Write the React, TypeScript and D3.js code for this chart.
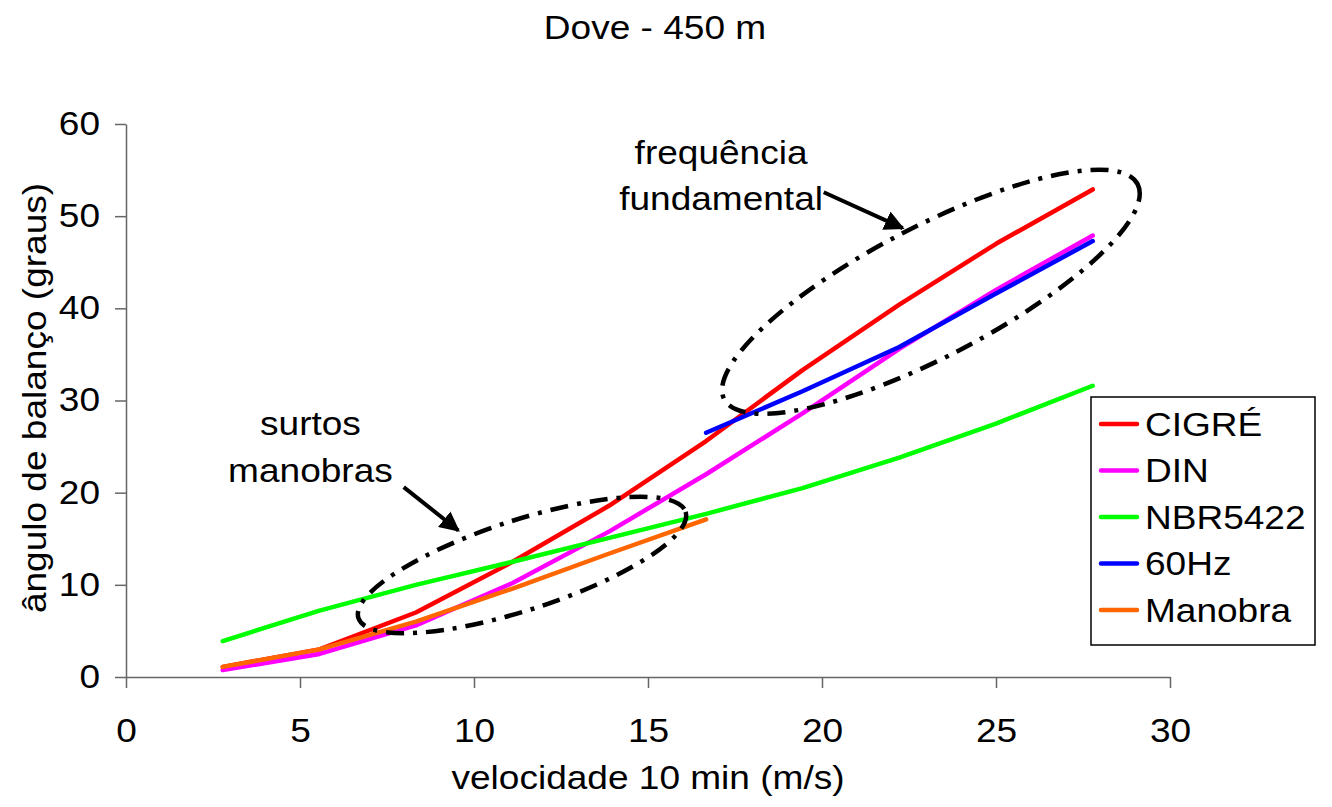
import React, { useEffect, useRef } from 'react';
import * as d3 from 'd3';

// velocidade (m/s) -> 10..100 km/h
const speeds = [2.78, 5.56, 8.33, 11.11, 13.89, 16.67, 19.44, 22.22, 25, 27.78];
const cigre = [1.1, 3.0, 7.0, 12.5, 18.6, 25.6, 33.3, 40.4, 47.0, 52.9];
const din = [0.75, 2.5, 5.6, 10.2, 15.8, 22.0, 28.6, 35.6, 42.0, 47.9];
const nbr = [3.9, 7.2, 10.0, 12.5, 15.1, 17.7, 20.5, 23.8, 27.5, 31.6];
const hz60 = [null, null, null, null, null, 26.5, 31.0, 35.8, 41.6, 47.3];
const manobra = [1.1, 3.0, 6.0, 9.6, 13.4, 17.1, null, null, null, null];

const seriesNames = ['CIGRÉ', 'DIN', 'NBR5422', '60Hz', 'Manobra'];
const seriesColors = ['#ff0000', '#ff00ff', '#00ff00', '#0000ff', '#ff6600'];
const xTicks = [0, 5, 10, 15, 20, 25, 30];
const yTicks = [0, 10, 20, 30, 40, 50, 60];

const FONT = 'Liberation Sans, Arial, sans-serif';
const FS = 32.5;
const SX = 1.14; // text in the original is a bit wider than tall

const App = () => {
  const ref = useRef<SVGSVGElement>(null);

  useEffect(() => {
    const svg = d3.select(ref.current);
    svg.selectAll('*').remove();

    const width = 1332, height = 807;
    const margin = { top: 124, right: 162, bottom: 130, left: 126 };

    const x = d3.scaleLinear().domain([0, 30]).range([margin.left, width - margin.right]);
    const y = d3.scaleLinear().domain([0, 60]).range([height - margin.bottom, margin.top]);

    const addText = (parent, tx, ty, str, anchor = 'middle', rot = 0) =>
      parent.append('text')
        .attr('transform', `translate(${tx},${ty}) rotate(${rot}) scale(${SX},1)`)
        .attr('text-anchor', anchor)
        .attr('font-family', FONT).attr('font-size', FS)
        .attr('fill', '#000')
        .text(str);

    addText(svg, 655, 39, 'Dove - 450 m');

    // axes
    const xAxis = svg.append('g')
      .attr('transform', `translate(0,${y(0)})`)
      .call(d3.axisBottom(x).tickValues(xTicks).tickSize(11).tickSizeOuter(0).tickPadding(31));
    const yAxis = svg.append('g')
      .attr('transform', `translate(${x(0)},0)`)
      .call(d3.axisLeft(y).tickValues(yTicks).tickSize(11).tickSizeOuter(0));
    [xAxis, yAxis].forEach(g => {
      g.selectAll('path, line').attr('stroke', '#666').attr('stroke-width', 1.5);
      g.selectAll('text')
        .attr('font-family', FONT).attr('font-size', FS).attr('fill', '#000')
        .attr('transform', `scale(${SX},1)`);
    });
    yAxis.selectAll('text').attr('x', -26 / SX);

    addText(svg, 648, 789, 'velocidade 10 min (m/s)');
    addText(svg, 46, 398, 'ângulo de balanço (graus)', 'middle', -90);

    // series lines
    const allSeries = [cigre, din, nbr, hz60, manobra];
    const line = d3.line<[number, number | null]>()
      .defined(d => d[1] != null)
      .x(d => x(d[0]))
      .y(d => y(d[1] as number));

    allSeries.forEach((vals, i) => {
      svg.append('path')
        .datum(speeds.map((s, j) => [s, vals[j]] as [number, number | null]))
        .attr('fill', 'none')
        .attr('stroke', seriesColors[i])
        .attr('stroke-width', 4.5)
        .attr('stroke-linecap', 'round')
        .attr('stroke-linejoin', 'round')
        .attr('d', line);
    });

    // annotations: dash-dot ellipses and arrows
    const annot = svg.append('g');
    const ellipses = [
      { cx: 11.38, cy: 12.15, rx: 172, ry: 45, rot: -18 },
      { cx: 23.13, cy: 41.8, rx: 233, ry: 65, rot: -27.5 },
    ];
    ellipses.forEach(e => {
      annot.append('ellipse')
        .attr('transform', `translate(${x(e.cx)},${y(e.cy)}) rotate(${e.rot})`)
        .attr('rx', e.rx).attr('ry', e.ry)
        .attr('fill', 'none')
        .attr('stroke', '#000')
        .attr('stroke-width', 4.5)
        .attr('stroke-dasharray', '18 9 4 9');
    });

    svg.append('defs').append('marker')
      .attr('id', 'arrowhead')
      .attr('viewBox', '0 0 10 10')
      .attr('refX', 9).attr('refY', 5)
      .attr('markerWidth', 5).attr('markerHeight', 5)
      .attr('orient', 'auto')
      .append('path')
      .attr('d', 'M0,0 L10,5 L0,10 z')
      .attr('fill', '#000');

    const arrows = [
      { x1: 7.98, y1: 20.6, x2: 9.55, y2: 15.9 },
      { x1: 20.05, y1: 52.6, x2: 22.32, y2: 48.7 },
    ];
    arrows.forEach(a => {
      annot.append('line')
        .attr('x1', x(a.x1)).attr('y1', y(a.y1))
        .attr('x2', x(a.x2)).attr('y2', y(a.y2))
        .attr('stroke', '#000').attr('stroke-width', 4)
        .attr('marker-end', 'url(#arrowhead)');
    });

    const labels = [
      { t: 'surtos', cx: 5.3, cy: 27.5 },
      { t: 'manobras', cx: 5.3, cy: 22.4 },
      { t: 'frequência', cx: 17.1, cy: 56.9 },
      { t: 'fundamental', cx: 17.1, cy: 51.9 },
    ];
    labels.forEach(l => {
      addText(annot, x(l.cx), y(l.cy) + 11, l.t);
    });

    // legend
    const legend = svg.append('g').attr('transform', 'translate(1091,397)');
    legend.append('rect')
      .attr('width', 224).attr('height', 248)
      .attr('fill', '#fff').attr('stroke', '#000').attr('stroke-width', 1.5);
    seriesNames.forEach((name, i) => {
      const ly = 27 + i * 46.5;
      legend.append('line')
        .attr('x1', 10).attr('x2', 46)
        .attr('y1', ly).attr('y2', ly)
        .attr('stroke', seriesColors[i]).attr('stroke-width', 4.5)
        .attr('stroke-linecap', 'round');
      addText(legend, 54, ly + 11.5, name, 'start');
    });
  }, []);

  return <svg ref={ref} width={1332} height={807} style={{ display: 'block', margin: -8 }} />;
};

export default App;
